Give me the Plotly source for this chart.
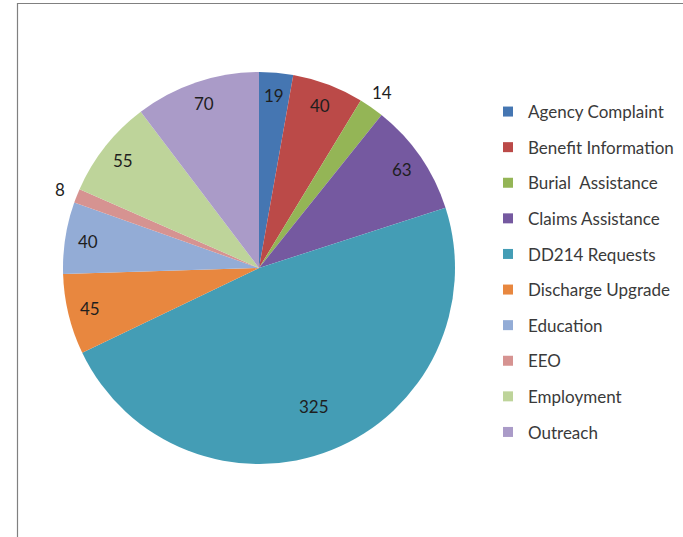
import math
import plotly.graph_objects as go

# Requests by category
categories = [
    "Agency Complaint", "Benefit Information", "Burial  Assistance",
    "Claims Assistance", "DD214 Requests", "Discharge Upgrade",
    "Education", "EEO", "Employment", "Outreach",
]
counts = [19, 40, 14, 63, 325, 45, 40, 8, 55, 70]
colors = [
    "#4576b2", "#bb4a48", "#94b556", "#7559a0", "#449db5",
    "#e8873f", "#93acd6", "#d69391", "#bed49a", "#aa9bc8",
]

W, H = 683, 537
# pie geometry in pixels
cx, cy, R = 259, 268, 196

fig = go.Figure()
fig.add_trace(go.Pie(
    labels=categories, values=counts, sort=False, direction="clockwise",
    rotation=0, textinfo="none", hoverinfo="label+value",
    marker=dict(colors=colors, line=dict(width=0)),
    domain=dict(x=[(cx - R) / W, (cx + R) / W],
                y=[(H - cy - R) / H, (H - cy + R) / H]),
    showlegend=False,
))

# value labels placed along each slice's mid-angle
total = sum(counts)
acc = 0
annotations = []
for v in counts:
    share = v / total
    mid = (acc + v / 2) / total * 2 * math.pi
    acc += v
    if share < 0.025:
        rf = 1.09
    elif share > 0.4:
        rf = 0.76
    else:
        rf = 0.885
    px = cx + rf * R * math.sin(mid)
    py = cy - rf * R * math.cos(mid)
    annotations.append(dict(
        x=px / W, y=1 - py / H, xref="paper", yref="paper",
        text=str(v), showarrow=False, xanchor="center", yanchor="middle",
        font=dict(family="Lato, sans-serif", size=17, color="#1e1e1e"),
    ))

# legend entries
for name, col in zip(categories, colors):
    fig.add_trace(go.Scatter(
        x=[None], y=[None], mode="markers", name=name, legendgroup=name,
        marker=dict(symbol="square", size=10, color=col),
    ))

fig.update_layout(
    width=W, height=H, margin=dict(l=0, r=0, t=0, b=0),
    paper_bgcolor="white", plot_bgcolor="white",
    xaxis=dict(visible=False), yaxis=dict(visible=False),
    annotations=annotations,
    legend=dict(
        x=488 / W, y=1 - 94 / H, xanchor="left", yanchor="top",
        font=dict(family="Lato, sans-serif", size=17, color="#3a3a3a"),
        tracegroupgap=10.5, itemwidth=30, bgcolor="rgba(0,0,0,0)",
    ),
    shapes=[dict(
        type="rect", xref="paper", yref="paper",
        x0=17.5 / W, x1=1.2, y0=-0.2, y1=1 - 3.5 / H,
        line=dict(color="#808080", width=1.2),
    )],
)

fig.write_html("out.html")
